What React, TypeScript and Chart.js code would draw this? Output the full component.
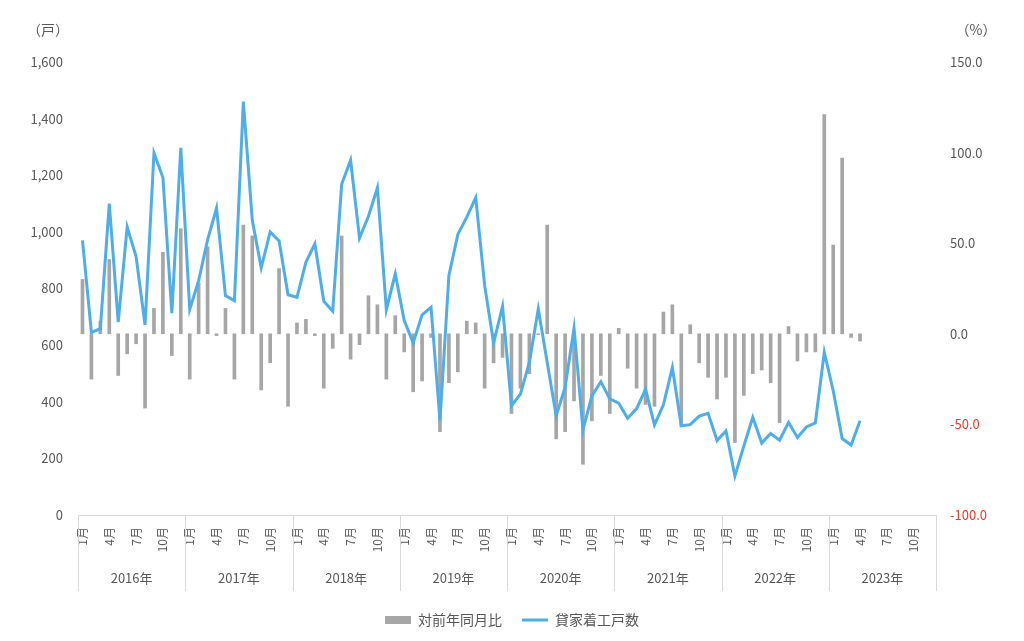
import React, { useRef, useEffect } from 'react'
import { Chart, registerables } from 'chart.js'

Chart.register(...registerables)

// years and months on the x axis (data runs Jan 2016 - Apr 2023)
const years = [2016, 2017, 2018, 2019, 2020, 2021, 2022, 2023]
const months = [1, 2, 3, 4, 5, 6, 7, 8, 9, 10, 11, 12]
const shownMonths = [1, 4, 7, 10]

// 貸家着工戸数 (戸)
const starts = [
	970, 645, 658, 1100, 681, 1017, 913, 671, 1279, 1192, 713, 1297,
	726, 828, 972, 1084, 775, 757, 1460, 1041, 873, 1000, 968, 778,
	769, 893, 958, 755, 720, 1168, 1253, 978, 1055, 1156, 725, 852,
	687, 608, 707, 734, 333, 846, 991, 1052, 1121, 811, 608, 737,
	386, 427, 539, 728, 539, 350, 451, 660, 301, 421, 471, 410,
	395, 342, 376, 444, 318, 389, 521, 315, 319, 349, 359, 263,
	297, 138, 244, 345, 254, 288, 264, 327, 274, 311, 325, 575,
	439, 270, 247, 333,
]

// 対前年同月比 (%)
const yoy = [
	30, -25, 7, 41, -23, -11, -5.5, -41, 14, 45, -12, 58,
	-25, 28, 48, -1, 14, -25, 60, 54, -31, -16, 36, -40,
	6, 8, -1, -30, -8, 54, -14, -6, 21, 16, -25, 10,
	-10, -32, -26, -2, -54, -27, -21, 7, 6, -30, -16, -13,
	-44, -30, -22, -0.5, 60, -58, -54, -37, -72, -48, -23, -44,
	3, -19, -30, -39, -40, 12, 16, -51, 5, -16, -24, -36,
	-24, -60, -34, -22, -20, -27, -49, 4, -15, -10, -10, 121,
	49, 97, -2, -4,
]

const labels = years.flatMap(y => months.map(m => `${y}-${m}`))

const FONT = '"Noto Sans CJK JP", "Noto Sans", sans-serif'
const TEXT = '#595959'
const RED = '#ee3a2c'
const LINE_GRAY = '#d9d9d9'

// year boxes under the month ticks, plus the unit labels at the top
const yearGroups = {
	id: 'yearGroups',
	afterDraw(chart: any) {
		const { ctx, chartArea, scales } = chart
		const x = scales.x
		const bounds: number[] = years.map((_, i) =>
			i === 0
				? chartArea.left
				: (x.getPixelForValue(i * 12) + x.getPixelForValue(i * 12 - 1)) / 2
		)
		bounds.push(chartArea.right)

		ctx.save()
		ctx.strokeStyle = LINE_GRAY
		ctx.lineWidth = 1
		bounds.forEach(b => {
			const px = Math.round(b) + 0.5
			ctx.beginPath()
			ctx.moveTo(px, chartArea.bottom)
			ctx.lineTo(px, chartArea.bottom + 76)
			ctx.stroke()
		})

		ctx.fillStyle = TEXT
		ctx.font = `13px ${FONT}`
		ctx.textAlign = 'center'
		ctx.textBaseline = 'middle'
		years.forEach((y, i) => {
			ctx.fillText(`${y}年`, (bounds[i] + bounds[i + 1]) / 2, chartArea.bottom + 63)
		})

		ctx.font = `14px ${FONT}`
		ctx.fillText('（戸）', scales.y.right - 30, 30)
		ctx.fillText('（%）', scales.y1.left + 40, 30)
		ctx.restore()
	},
}

const HousingChart: React.FC = () => {
	const chartRef = useRef<HTMLCanvasElement | null>(null)

	useEffect(() => {
		document.body.style.margin = '0'
		if (!chartRef.current) return
		const ctx = chartRef.current.getContext('2d')
		if (!ctx) return

		const chart = new Chart(ctx, {
			type: 'bar',
			data: {
				labels: labels,
				datasets: [
					{
						type: 'bar',
						label: '対前年同月比',
						data: yoy,
						yAxisID: 'y1',
						backgroundColor: '#a6a6a6',
						borderWidth: 0,
						barThickness: 3,
						pointStyle: 'rect',
						order: 1,
					},
					{
						type: 'line',
						label: '貸家着工戸数',
						data: starts,
						yAxisID: 'y',
						borderColor: '#4daeea',
						backgroundColor: '#4daeea',
						borderWidth: 3,
						pointRadius: 0,
						tension: 0,
						pointStyle: 'line',
						order: 0,
					},
				],
			},
			options: {
				responsive: false,
				animation: false,
				layout: { padding: { top: 62, left: 0, right: 0, bottom: 4 } },
				plugins: {
					tooltip: { enabled: false },
					legend: {
						position: 'bottom',
						labels: {
							usePointStyle: true,
							pointStyleWidth: 26,
							boxHeight: 8,
							padding: 20,
							color: TEXT,
							font: { family: FONT, size: 14 },
							sort: (a: any, b: any) => a.datasetIndex - b.datasetIndex,
						},
					},
				},
				scales: {
					x: {
						grid: { display: false, drawTicks: false },
						border: { color: LINE_GRAY },
						ticks: {
							autoSkip: false,
							minRotation: 90,
							maxRotation: 90,
							padding: 12,
							color: TEXT,
							font: { family: FONT, size: 12 },
							callback: (_v: any, i: number) => {
								const m = months[i % 12]
								return shownMonths.includes(m) ? `${m}月` : ''
							},
						},
						afterFit: (scale: any) => {
							scale.height = 78
						},
					},
					y: {
						position: 'left',
						min: 0,
						max: 1600,
						grid: { display: false, drawTicks: false },
						border: { display: false },
						ticks: {
							stepSize: 200,
							padding: 15,
							color: TEXT,
							font: { family: FONT, size: 13 },
							callback: (v: any) => Number(v).toLocaleString('en-US'),
						},
						afterFit: (scale: any) => {
							scale.width = 78
						},
					},
					y1: {
						position: 'right',
						min: -100,
						max: 150,
						grid: { display: false, drawTicks: false },
						border: { display: false },
						ticks: {
							stepSize: 50,
							padding: 14,
							color: (c: any) => (c.tick && c.tick.value < 0 ? RED : TEXT),
							font: { family: FONT, size: 13 },
							callback: (v: any) => Number(v).toFixed(1),
						},
						afterFit: (scale: any) => {
							scale.width = 88
						},
					},
				},
			},
			plugins: [yearGroups],
		})

		return () => {
			chart.destroy()
		}
	}, [])

	return <canvas ref={chartRef} width={1024} height={641} style={{ display: 'block' }} />
}

export default function App() {
	return <HousingChart />
}
